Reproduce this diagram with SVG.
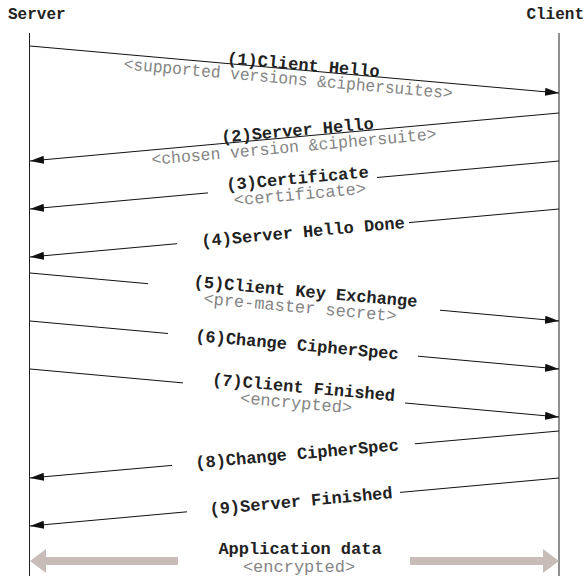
<svg xmlns="http://www.w3.org/2000/svg" width="585" height="576" viewBox="0 0 585 576">
<style>
.hdr{font-family:"Liberation Mono","Courier New",monospace;font-weight:bold;font-size:16px;fill:#222}
.lbl{font-family:"Liberation Mono","Courier New",monospace;font-weight:bold;font-size:17px;fill:#222;text-anchor:middle}
.sub{font-family:"Liberation Mono","Courier New",monospace;font-size:17px;fill:#858585;text-anchor:middle}
.msg{stroke:#111;stroke-width:1;fill:none}
.life{stroke:#222;stroke-width:1}
.app{fill:#c7bcb8}
</style>
<defs>
<marker id="ah" markerWidth="14" markerHeight="8" refX="14" refY="4" orient="auto" markerUnits="userSpaceOnUse">
<path d="M0,0 L14,4 L0,8 z" fill="#111"/>
</marker>
</defs>
<rect width="585" height="576" fill="#fff"/>
<g id="server">
<text class="hdr" x="8" y="19">Server</text>
<line class="life" x1="29.5" y1="33" x2="29.5" y2="576"/>
</g>
<g id="client">
<text class="hdr" x="584" y="19" text-anchor="end">Client</text>
<line class="life" x1="559" y1="33" x2="559" y2="576"/>
</g>
<g id="connectors">
<line class="msg" x1="30" y1="46" x2="559" y2="93" marker-end="url(#ah)"/>
<line class="msg" x1="559" y1="113" x2="30" y2="161" marker-end="url(#ah)"/>
<line class="msg" x1="559" y1="161" x2="377" y2="177.5"/>
<line class="msg" x1="208" y1="192.9" x2="30" y2="209" marker-end="url(#ah)"/>
<line class="msg" x1="559" y1="209" x2="409" y2="222.6"/>
<line class="msg" x1="177" y1="243.7" x2="30" y2="257" marker-end="url(#ah)"/>
<line class="msg" x1="30" y1="273" x2="148" y2="283.7"/>
<line class="msg" x1="440" y1="310.2" x2="559" y2="321" marker-end="url(#ah)"/>
<line class="msg" x1="30" y1="321" x2="168" y2="333.5"/>
<line class="msg" x1="418" y1="356.2" x2="559" y2="369" marker-end="url(#ah)"/>
<line class="msg" x1="30" y1="369" x2="183" y2="382.9"/>
<line class="msg" x1="405" y1="403" x2="559" y2="417" marker-end="url(#ah)"/>
<line class="msg" x1="559" y1="431" x2="415" y2="443.8"/>
<line class="msg" x1="172" y1="465.4" x2="30" y2="478" marker-end="url(#ah)"/>
<line class="msg" x1="559" y1="478" x2="400" y2="492.4"/>
<line class="msg" x1="187" y1="511.8" x2="30" y2="526" marker-end="url(#ah)"/>
<polygon class="app" points="30,561 46,549 46,557 178,557 178,565 46,565 46,573"/>
<polygon class="app" points="559,561 543,549 543,557 410,557 410,565 543,565 543,573"/>
</g>
<g id="m1" transform="translate(303,70.2) rotate(5.08)">
<text class="lbl" x="0" y="0">(1)Client Hello</text>
<text class="sub" x="-14" y="15" textLength="330" lengthAdjust="spacingAndGlyphs">&lt;supported versions &amp;ciphersuites&gt;</text>
</g>
<g id="m2" transform="translate(298,136.7) rotate(-5.18)">
<text class="lbl" x="0" y="-1">(2)Server Hello</text>
<text class="sub" x="-5" y="15" textLength="286" lengthAdjust="spacingAndGlyphs">&lt;chosen version &amp;ciphersuite&gt;</text>
</g>
<g id="m3" transform="translate(298,184.7) rotate(-5.18)">
<text class="lbl" x="0" y="-1">(3)Certificate</text>
<text class="sub" x="1" y="15">&lt;certificate&gt;</text>
</g>
<g id="m4" transform="translate(303,232.2) rotate(-5.18)">
<text class="lbl" x="0" y="5">(4)Server Hello Done</text>
</g>
<g id="m5" transform="translate(305,297.9) rotate(5.18)">
<text class="lbl" x="0" y="-1">(5)Client Key Exchange</text>
<text class="sub" x="-4" y="15">&lt;pre-master secret&gt;</text>
</g>
<g id="m6" transform="translate(297,345.2) rotate(5.18)">
<text class="lbl" x="0" y="5">(6)Change CipherSpec</text>
</g>
<g id="m7" transform="translate(303,393.8) rotate(5.18)">
<text class="lbl" x="0" y="-1">(7)Client Finished</text>
<text class="sub" x="-6" y="15">&lt;encrypted&gt;</text>
</g>
<g id="m8" transform="translate(297,454.3) rotate(-5.08)">
<text class="lbl" x="0" y="5">(8)Change CipherSpec</text>
</g>
<g id="m9" transform="translate(301,501.4) rotate(-5.18)">
<text class="lbl" x="0" y="5">(9)Server Finished</text>
</g>
<g id="app">
<text class="lbl" x="300" y="554">Application data</text>
<text class="sub" x="299" y="572">&lt;encrypted&gt;</text>
</g>
</svg>
